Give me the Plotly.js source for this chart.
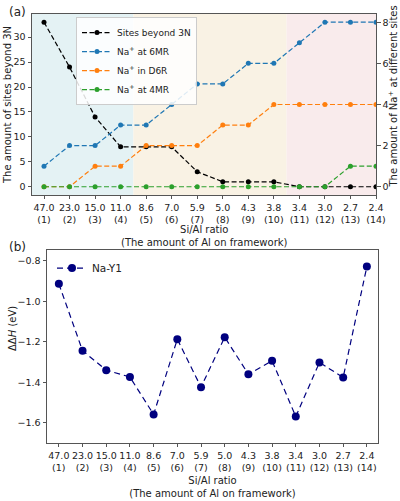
<!DOCTYPE html>
<html>
<head>
<meta charset="utf-8">
<script src="https://cdn.plot.ly/plotly-3.0.1.min.js"></script>
<style>html,body{margin:0;padding:0;background:#fff;}#chart{width:400px;height:501px;}</style>
</head>
<body>
<div id="chart"></div>
<script>
// ---- data ----
const siAlRatio = ["47.0","23.0","15.0","11.0","8.6","7.0","5.9","5.0","4.3","3.8","3.4","3.0","2.7","2.4"];
const alCount = [1,2,3,4,5,6,7,8,9,10,11,12,13,14];
const sitesBeyond3N = [33,24,14,8,8,8,3,1,1,1,0,0,0,0];
const naAt6MR = [1,2,2,3,3,4,5,5,6,6,7,8,8,8];
const naInD6R = [0,0,1,1,2,2,2,3,3,4,4,4,4,4];
const naAt4MR = [0,0,0,0,0,0,0,0,0,0,0,0,1,1];
const naY1 = [-0.913,-1.244,-1.340,-1.374,-1.559,-1.187,-1.424,-1.177,-1.360,-1.294,-1.569,-1.302,-1.376,-0.828];
const regionBounds = [0.53, 4.5, 10.5, 14];
const regionColors = ["#e4f2f4", "#f9f2e4", "#f9ebec"];

const tickText = siAlRatio.map((s, i) => s + "<br>(" + alCount[i] + ")");
const FONT = "DejaVu Sans, sans-serif";
const AX = "#555";

function lineTrace(y, name, color, yaxis, legend, msize, dash) {
  return {
    x: alCount, y: y, name: name, type: "scatter", mode: "lines+markers",
    xaxis: yaxis === "y3" ? "x2" : "x", yaxis: yaxis, legend: legend,
    line: {color: color, width: 1.2, dash: dash},
    marker: {color: color, size: msize}
  };
}

const traces = [
  lineTrace(sitesBeyond3N, "Sites beyond 3N", "#000000", "y", "legend", 5, "5px,2.5px"),
  lineTrace(naAt6MR, "Na<sup>+</sup> at 6MR", "#1f77b4", "y2", "legend", 5, "5px,2.5px"),
  lineTrace(naInD6R, "Na<sup>+</sup> in D6R", "#ff7f0e", "y2", "legend", 5, "5px,2.5px"),
  lineTrace(naAt4MR, "Na<sup>+</sup> at 4MR", "#2ca02c", "y2", "legend", 5, "5px,2.5px"),
  lineTrace(naY1, "Na-Y1", "#00007f", "y3", "legend2", 8, "6px,4px")
];

const shapes = regionColors.map((c, i) => ({
  type: "rect", xref: "x", yref: "y domain", x0: regionBounds[i], x1: regionBounds[i+1],
  y0: 0, y1: 1, fillcolor: c, line: {width: 0}, layer: "below"
}));

const axBase = {
  showline: true, linecolor: AX, linewidth: 1, showgrid: false, zeroline: false,
  ticks: "outside", ticklen: 3.5, tickcolor: AX, tickangle: 0,
  tickfont: {size: 9.5, color: "#222", family: FONT}
};

function titleNote(text, px, py, angle) {
  return {text: text, xref: "paper", yref: "paper", x: px / 400, y: 1 - py / 501,
    xanchor: "center", yanchor: "middle", textangle: angle, showarrow: false,
    font: {size: 10, family: FONT, color: "#222"}};
}

const layout = {
  width: 400, height: 501,
  margin: {l: 0, r: 0, t: 0, b: 0},
  paper_bgcolor: "#fff", plot_bgcolor: "rgba(0,0,0,0)",
  font: {family: FONT, color: "#222"},
  showlegend: true,
  xaxis: Object.assign({}, axBase, {
    domain: [0.08, 0.94], anchor: "y", range: [0.53, 14], mirror: true,
    tickvals: alCount, ticktext: tickText
  }),
  yaxis: Object.assign({}, axBase, {
    domain: [0.6108, 0.9721], anchor: "x", range: [-1.65, 34.65], mirror: true,
    tickvals: [0,5,10,15,20,25,30]
  }),
  yaxis2: Object.assign({}, axBase, {
    overlaying: "y", side: "right", anchor: "x", range: [-0.4, 8.4],
    tickvals: [0,2,4,6,8], showline: false
  }),
  xaxis2: Object.assign({}, axBase, {
    domain: [0.1175, 0.945], anchor: "y3", range: [0.5, 14.47], mirror: true,
    tickvals: alCount, ticktext: tickText,
    title: {text: "Si/Al ratio<br>(The amount of Al on framework)", font: {size: 10, family: FONT}}
  }),
  yaxis3: Object.assign({}, axBase, {
    domain: [0.1158, 0.501], anchor: "x2", range: [-1.70, -0.746], mirror: true,
    tickvals: [-1.6,-1.4,-1.2,-1.0,-0.8], tickformat: ".1f"
  }),
  legend: {
    x: 0.19, xanchor: "left", y: 0.966, yanchor: "top",
    bgcolor: "rgba(255,255,255,0.85)", bordercolor: "#ccc", borderwidth: 1,
    font: {size: 9, family: FONT, color: "#222"}, itemwidth: 30, tracegroupgap: 0
  },
  legend2: {
    x: 0.13, xanchor: "left", y: 0.465, yanchor: "middle",
    bgcolor: "rgba(0,0,0,0)", borderwidth: 0,
    font: {size: 10.5, family: FONT, color: "#222"}, itemwidth: 30
  },
  shapes: shapes,
  annotations: [
    {text: "(a)", xref: "paper", yref: "paper", x: 0.018, y: 0.977, xanchor: "left", yanchor: "middle", showarrow: false, font: {size: 12, family: FONT, color: "#222"}},
    {text: "(b)", xref: "paper", yref: "paper", x: 0.018, y: 0.507, xanchor: "left", yanchor: "middle", showarrow: false, font: {size: 12, family: FONT, color: "#222"}},
    titleNote("The amount of sites beyond 3N", 7, 105, -90),
    titleNote("The amount of Na<sup>+</sup> at different sites", 392.5, 97, -90),
    titleNote("Si/Al ratio<br>(The amount of Al on framework)", 204, 236, 0),
    titleNote("ΔΔ<i>H</i> (eV)", 12, 329, -90)
  ]
};

Plotly.newPlot("chart", traces, layout, {staticPlot: true, displayModeBar: false});
</script>
</body>
</html>
